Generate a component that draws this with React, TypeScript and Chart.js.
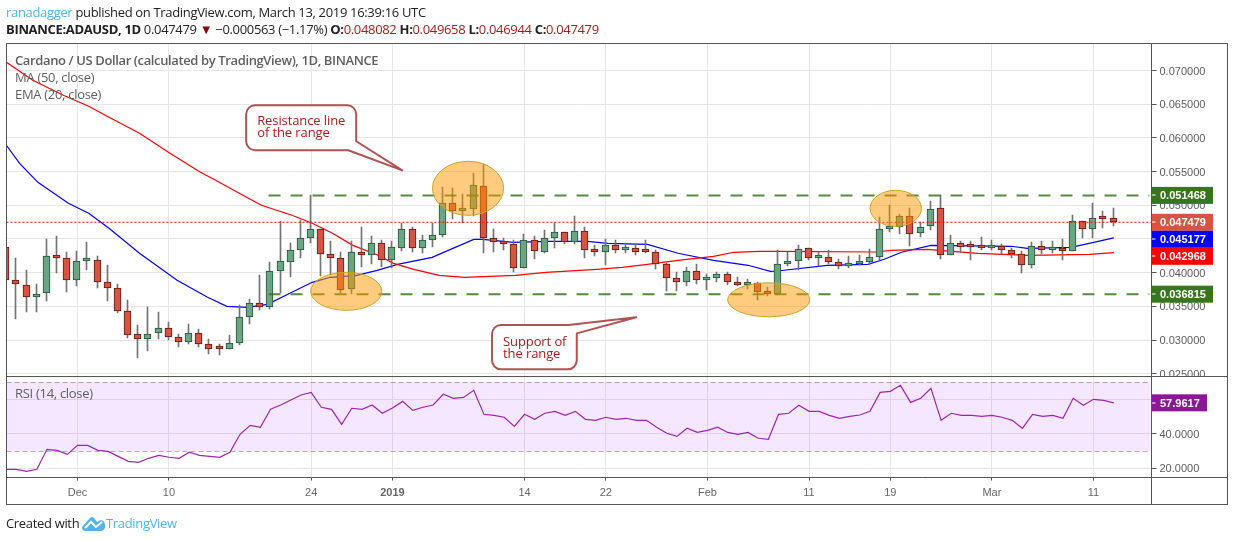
import { useEffect, useRef } from "react";
import Chart from "chart.js/auto";

// day index 0 = 24 Nov 2018
const opens = [
	0.04382, 0.03897, 0.03818, 0.03644, 0.03704, 0.04248, 0.04218, 0.03897, 0.04179, 0.04189,
	0.03862, 0.03778, 0.03437, 0.03095, 0.03021, 0.0311, 0.03184, 0.03051, 0.02977, 0.0311,
	0.02947, 0.02878, 0.02873, 0.02962, 0.03348, 0.03555, 0.03496, 0.0403, 0.04164, 0.04342,
	0.0452, 0.04654, 0.04278, 0.04223, 0.03763, 0.04312, 0.04268, 0.04446, 0.04194, 0.04366,
	0.04653, 0.04366, 0.0449, 0.04564, 0.05039, 0.04916, 0.04945, 0.05292, 0.0452, 0.04461,
	0.04431, 0.04075, 0.0449, 0.04312, 0.04515, 0.04609, 0.04461, 0.04624, 0.04342, 0.04312,
	0.04416, 0.04342, 0.04371, 0.04312, 0.04312, 0.04134, 0.03926, 0.03867, 0.0403, 0.03897,
	0.03926, 0.03986, 0.03867, 0.03822, 0.03847, 0.03718, 0.03689, 0.04129, 0.04178, 0.04371,
	0.04223, 0.04238, 0.04163, 0.04099, 0.04129, 0.04159, 0.04238, 0.04648, 0.04683, 0.04846,
	0.04594, 0.04698, 0.04965, 0.04267, 0.04446, 0.04391, 0.04386, 0.04366, 0.04401, 0.04342,
	0.04282, 0.04114, 0.04401, 0.04342, 0.04371, 0.04327, 0.04772, 0.04653, 0.04817, 0.048082
];
const closes = [
	0.03887, 0.03837, 0.03644, 0.03689, 0.04248, 0.04223, 0.03897, 0.04179, 0.04194, 0.03867,
	0.03778, 0.03437, 0.0308, 0.03021, 0.03095, 0.03184, 0.03051, 0.02977, 0.0311, 0.02947,
	0.02873, 0.02868, 0.02962, 0.03348, 0.03555, 0.03496, 0.0403, 0.04179, 0.04342, 0.0452,
	0.04654, 0.04283, 0.04223, 0.03748, 0.04312, 0.04263, 0.04446, 0.04194, 0.04387, 0.04653,
	0.04366, 0.0449, 0.04564, 0.05039, 0.04921, 0.0495, 0.05306, 0.04515, 0.04456, 0.04426,
	0.04075, 0.0449, 0.04327, 0.0452, 0.04609, 0.04461, 0.04624, 0.04342, 0.04312, 0.04416,
	0.04342, 0.04386, 0.04312, 0.04307, 0.04134, 0.03926, 0.03867, 0.0403, 0.03897, 0.03941,
	0.03986, 0.03867, 0.03822, 0.03852, 0.03718, 0.03689, 0.04134, 0.04178, 0.04356, 0.04223,
	0.04243, 0.04163, 0.04104, 0.04134, 0.04163, 0.04238, 0.04653, 0.04683, 0.04846, 0.04579,
	0.04683, 0.0495, 0.04267, 0.04446, 0.04386, 0.04381, 0.04366, 0.04401, 0.04342, 0.04282,
	0.04114, 0.04401, 0.04342, 0.04371, 0.04327, 0.04772, 0.04653, 0.04817, 0.04802, 0.047479
];
const highs = [
	0.04382, 0.04223, 0.04045, 0.03828, 0.04505, 0.0454, 0.04302, 0.04317, 0.04451, 0.04253,
	0.04119, 0.03837, 0.036, 0.03219, 0.03486, 0.03412, 0.03273, 0.03095, 0.03234, 0.0317,
	0.03021, 0.02937, 0.03071, 0.03526, 0.03605, 0.03961, 0.04154, 0.04762, 0.04436, 0.04787,
	0.05148, 0.04654, 0.04466, 0.04302, 0.04466, 0.04673, 0.0454, 0.0449, 0.04466, 0.04738,
	0.04683, 0.04564, 0.04743, 0.05267, 0.05252, 0.05163, 0.05475, 0.05608, 0.04644, 0.0452,
	0.0449, 0.04579, 0.0455, 0.04639, 0.04743, 0.04609, 0.04836, 0.04683, 0.04416, 0.04505,
	0.0449, 0.04446, 0.04431, 0.0449, 0.04342, 0.04144, 0.04015, 0.04085, 0.04134, 0.03986,
	0.04015, 0.04015, 0.03931, 0.03911, 0.03867, 0.03783, 0.04342, 0.04307, 0.04406, 0.04371,
	0.04307, 0.04342, 0.04208, 0.04243, 0.04257, 0.04356, 0.04821, 0.04999, 0.04876, 0.04965,
	0.04757, 0.05059, 0.05158, 0.04554, 0.04475, 0.04465, 0.04525, 0.0449, 0.04431, 0.04371,
	0.04327, 0.0445, 0.0447, 0.04465, 0.04495, 0.04851, 0.04772, 0.05029, 0.0492, 0.049658
];
const lows = [
	0.03887, 0.03318, 0.03417, 0.03417, 0.0358, 0.03996, 0.03714, 0.03798, 0.04035, 0.03773,
	0.0358, 0.03402, 0.03031, 0.02734, 0.02838, 0.03016, 0.02996, 0.02898, 0.02942, 0.02898,
	0.02794, 0.02779, 0.02873, 0.02927, 0.03239, 0.03447, 0.03461, 0.03699, 0.03936, 0.04213,
	0.04441, 0.03951, 0.03971, 0.03699, 0.03679, 0.04085, 0.04129, 0.04085, 0.04075, 0.04322,
	0.04307, 0.04292, 0.04376, 0.0453, 0.04792, 0.04743, 0.04846, 0.04292, 0.04307, 0.04337,
	0.0401, 0.04075, 0.04203, 0.04292, 0.04366, 0.04426, 0.04426, 0.04218, 0.04248, 0.04114,
	0.04292, 0.04292, 0.04263, 0.04292, 0.04055, 0.03728, 0.03723, 0.03803, 0.03832, 0.03743,
	0.03862, 0.03817, 0.03803, 0.03763, 0.03595, 0.03654, 0.03664, 0.04094, 0.0404, 0.04193,
	0.04099, 0.04124, 0.04055, 0.04069, 0.04109, 0.04119, 0.04183, 0.04604, 0.04574, 0.04396,
	0.0453, 0.04629, 0.04203, 0.04267, 0.04297, 0.04188, 0.04342, 0.04342, 0.04282, 0.04218,
	0.03995, 0.04069, 0.04282, 0.04297, 0.04188, 0.04327, 0.0451, 0.0451, 0.04663, 0.046944
];

const ma50Days = [0, 2.6, 5.6, 8.1, 10.1, 13.1, 16.1, 19.1, 20.6, 23.1, 25.1, 28.1, 30.1, 32.1, 34.1, 36.6, 38.1, 40.1, 42.6, 45.1, 50.1, 53.1, 58.1, 60.6, 63.1, 66.1, 69.6, 71.6, 74.1, 76.1, 85.6, 87.1, 90.6, 95.6, 100.6, 106.6, 109];
const ma50Values = [
	0.07122, 0.06855, 0.06632, 0.06469, 0.06306, 0.06068, 0.05772, 0.0549, 0.05371, 0.05163,
	0.05, 0.04852, 0.04733, 0.04584, 0.04406, 0.04258, 0.04139, 0.0405, 0.03961, 0.03932,
	0.03961, 0.04006, 0.0405, 0.0408, 0.04124, 0.04184, 0.04243, 0.04303, 0.04317, 0.04317,
	0.04307, 0.04332, 0.04347, 0.04288, 0.04258, 0.04273, 0.042968
];
const ema20Days = [0, 1.3, 3.1, 6.1, 8.1, 10.1, 13.1, 16.8, 19.8, 21.7, 23.7, 25.7, 27.9, 30.1, 31.9, 34.5, 36.5, 38.5, 41.9, 46, 46.9, 49.9, 53.3, 57.2, 59.2, 63.1, 66.1, 69.6, 73, 75.2, 75.9, 80.8, 84.8, 86.4, 88.1, 91, 98.9, 100.5, 104.8, 109];
const ema20Values = [
	0.0589, 0.05623, 0.05341, 0.0503, 0.04881, 0.04659, 0.04288, 0.03887, 0.03635, 0.03501,
	0.03486, 0.03531, 0.03694, 0.03857, 0.03932, 0.03961, 0.04035, 0.04124, 0.04228, 0.04495,
	0.04495, 0.04451, 0.04466, 0.04466, 0.04436, 0.04421, 0.04288, 0.04184, 0.0411, 0.04021,
	0.04025, 0.0411, 0.04124, 0.04199, 0.04303, 0.04406, 0.04392, 0.04362, 0.04377, 0.045177
];
const rsiValues = [
	19.4, 19.4, 18.2, 19.4, 31.0, 30.4, 28.1, 33.3, 33.3, 30.4,
	29.8, 26.9, 24.0, 23.5, 25.8, 27.5, 26.4, 25.8, 29.3, 27.5,
	26.9, 26.4, 29.3, 39.7, 44.9, 43.8, 54.2, 56.7, 59.6, 62.5,
	64.0, 55.4, 54.2, 45.5, 54.8, 54.2, 56.7, 51.9, 55.0, 58.8,
	53.6, 55.4, 56.7, 62.9, 60.6, 61.1, 65.2, 51.3, 50.7, 49.6,
	44.3, 51.3, 48.4, 51.9, 53.0, 50.7, 53.0, 48.4, 47.8, 49.6,
	48.4, 49.0, 47.8, 47.8, 43.8, 40.3, 38.5, 43.2, 40.8, 42.0,
	43.8, 40.8, 39.7, 40.8, 37.4, 36.8, 51.3, 51.9, 56.5, 53.0,
	53.0, 50.7, 49.0, 50.1, 50.9, 53.0, 64.0, 64.6, 68.1, 58.2,
	60.6, 66.4, 47.8, 51.9, 50.7, 50.7, 50.1, 50.7, 49.6, 47.8,
	43.2, 51.3, 50.1, 50.7, 49.0, 60.6, 56.5, 60.0, 59.4, 57.96
];

const tickDays = [7, 16, 30, 38, 51, 59, 69, 79, 87, 97, 107];
const tickLabels = ["Dec", "10", "24", "2019", "14", "22", "Feb", "11", "19", "Mar", "11"];

const resistance = 0.051468;
const support = 0.036815;
const lastClose = 0.047479;
const lastRsi = 57.9617;

const rangeStartDay = 25.8;
const rangeEndDay = 112.5;

// [centre day, centre price, day radius, price radius]
const ellipses = [
	[45.44, 0.05252, 3.5, 0.00401],
	[33.45, 0.03724, 3.5, 0.00282],
	[75.03, 0.03598, 4.04, 0.00252],
	[87.54, 0.04955, 2.53, 0.00267]
];

const callouts = [
	{
		left: 23.6, right: 34.43, top: 0.06484, bottom: 0.05816,
		tipDay: 38.97, tipPrice: 0.05519, baseDay: 33.65, basePrice: 0.0595, side: "bottom",
		lines: ["Resistance line", "of the range"], textTop: 16
	},
	{
		left: 47.8, right: 56.14, top: 0.03224, bottom: 0.02566,
		tipDay: 62, tipPrice: 0.03338, baseDay: 55.32, basePrice: 0.031, side: "top",
		lines: ["Support of", "the range"], textTop: 17
	}
];

const priceLabels = [
	{ value: resistance, color: "#38761d" },
	{ value: lastClose, color: "#d75442" },
	{ value: 0.045177, color: "#0000ff" },
	{ value: 0.042968, color: "#ff0000" },
	{ value: support, color: "#38761d" }
];

const axisFont = "'Liberation Sans', Arial, sans-serif";
const uiFont = "'Open Sans', sans-serif";

const days = opens.map((_, i) => i);

function roundedBox(ctx: any, c: any, x: any, y: any) {
	const l = x.getPixelForValue(c.left);
	const r = x.getPixelForValue(c.right);
	const t = y.getPixelForValue(c.top);
	const b = y.getPixelForValue(c.bottom);
	const tx = x.getPixelForValue(c.tipDay);
	const ty = y.getPixelForValue(c.tipPrice);
	const bx = x.getPixelForValue(c.baseDay);
	const by = y.getPixelForValue(c.basePrice);
	const rad = 9;
	ctx.beginPath();
	ctx.moveTo(l + rad, t);
	if (c.side === "top") {
		ctx.lineTo(bx, t);
		ctx.lineTo(tx, ty);
		ctx.lineTo(r, by);
		ctx.arcTo(r, b, r - rad, b, rad);
	} else {
		ctx.arcTo(r, t, r, t + rad, rad);
		ctx.lineTo(r, by);
		ctx.lineTo(tx, ty);
		ctx.lineTo(bx, b);
	}
	ctx.arcTo(l, b, l, b - rad, rad);
	ctx.arcTo(l, t, l + rad, t, rad);
	ctx.closePath();
	ctx.fillStyle = "rgba(255,255,255,0.92)";
	ctx.fill();
	ctx.lineWidth = 2;
	ctx.lineJoin = "round";
	ctx.strokeStyle = "rgba(155,40,40,0.8)";
	ctx.stroke();
	ctx.fillStyle = "#a61c1c";
	ctx.font = `13px ${uiFont}`;
	ctx.letterSpacing = "-0.1px";
	ctx.textAlign = "left";
	ctx.textBaseline = "middle";
	c.lines.forEach((line: string, i: number) => {
		ctx.fillText(line, l + 11, t + c.textTop + i * 12);
	});
	ctx.letterSpacing = "0px";
}

function pill(ctx: any, left: number, right: number, mid: number, color: string, text: string) {
	ctx.fillStyle = color;
	ctx.fillRect(left, mid - 8.5, right - left, 17);
	ctx.fillStyle = "#ffffff";
	ctx.fillRect(left, Math.round(mid) - 0.5, 4, 1);
	ctx.font = `bold 11px ${axisFont}`;
	ctx.textAlign = "left";
	ctx.textBaseline = "middle";
	ctx.fillText(text, left + 8.5, mid + 1);
}

const panePlugin = {
	id: "panes",
	beforeDraw(chart: any) {
		// tick labels sit a pixel lower than canvas "middle" gives
		[chart.scales.y, chart.scales.rsi].forEach((scale: any) => {
			scale.getLabelItems(chart.chartArea).forEach((item: any) => {
				if (item.shifted) return;
				item.options.translation[1] += 1;
				item.shifted = true;
			});
		});
	},
	beforeDatasetsDraw(chart: any) {
		const { ctx, chartArea, scales } = chart;
		const top = scales.rsi.getPixelForValue(70);
		const bottom = scales.rsi.getPixelForValue(30);
		ctx.save();
		ctx.fillStyle = "rgba(153,21,255,0.1)";
		ctx.fillRect(chartArea.left, top, chartArea.width - 1, bottom - top);
		ctx.strokeStyle = "rgba(120,85,130,0.5)";
		ctx.setLineDash([5, 3]);
		ctx.lineWidth = 1;
		[top, bottom].forEach((y: number) => {
			ctx.beginPath();
			ctx.moveTo(chartArea.left, Math.round(y) + 0.5);
			ctx.lineTo(chartArea.right - 1, Math.round(y) + 0.5);
			ctx.stroke();
		});
		ctx.restore();

		// snap candles to whole pixels so wicks stay crisp
		chart.data.datasets.forEach((ds: any, i: number) => {
			if (ds.type !== "bar") return;
			chart.getDatasetMeta(i).data.forEach((el: any) => {
				el.x = Math.floor(el.x - 0.7) + 0.5;
				el.y = Math.round(el.y);
				el.base = Math.round(el.base);
			});
		});
	},
	afterDatasetsDraw(chart: any) {
		const { ctx, scales } = chart;
		const x = scales.x;
		const y = scales.y;
		ctx.save();
		ctx.beginPath();
		ctx.rect(chart.chartArea.left, y.top, chart.chartArea.width, y.height);
		ctx.clip();
		ellipses.forEach(([d, p, rd, rp]) => {
			const cx = x.getPixelForValue(d);
			const cy = y.getPixelForValue(p);
			ctx.beginPath();
			ctx.ellipse(cx, cy, x.getPixelForValue(d + rd) - cx, cy - y.getPixelForValue(p + rp), 0, 0, Math.PI * 2);
			ctx.fillStyle = "rgba(255,152,0,0.5)";
			ctx.fill();
			ctx.lineWidth = 1;
			ctx.strokeStyle = "#c9a227";
			ctx.stroke();
		});
		callouts.forEach((c) => roundedBox(ctx, c, x, y));

		ctx.fillStyle = "#5f5f5f";
		ctx.textAlign = "left";
		ctx.textBaseline = "middle";
		ctx.letterSpacing = "-0.38px";
		ctx.font = `600 13px ${uiFont}`;
		ctx.fillText("Cardano / US Dollar (calculated by TradingView), 1D, BINANCE", 15, 61);
		ctx.letterSpacing = "-0.3px";
		ctx.font = `13px ${uiFont}`;
		ctx.fillText("MA (50, close)", 15, 78);
		ctx.fillText("EMA (20, close)", 15, 95);
		ctx.restore();

		ctx.save();
		ctx.fillStyle = "#5f5f5f";
		ctx.textAlign = "left";
		ctx.textBaseline = "middle";
		ctx.letterSpacing = "-0.3px";
		ctx.font = `13px ${uiFont}`;
		ctx.fillText("RSI (14, close)", 15, 394);
		ctx.restore();
	},
	afterDraw(chart: any) {
		const { ctx, chartArea, scales } = chart;
		const frameRight = chart.width - 6.5;
		const frameBottom = chartArea.bottom + 27;
		ctx.save();
		// the lowest price label is cut by the RSI pane
		ctx.fillStyle = "#ffffff";
		ctx.fillRect(chartArea.right + 1, scales.y.bottom, frameRight - chartArea.right - 2, 6);

		let floor = -Infinity;
		priceLabels.forEach((l) => {
			const mid = Math.max(scales.y.getPixelForValue(l.value), floor + 8.5);
			pill(ctx, chartArea.right, chartArea.right + 61.5, mid, l.color, l.value.toFixed(6));
			floor = mid + 8.5;
		});
		pill(ctx, chartArea.right, chartArea.right + 55.5, scales.rsi.getPixelForValue(lastRsi), "#8e1599", lastRsi.toFixed(4));

		ctx.strokeStyle = "#555555";
		ctx.lineWidth = 1;
		ctx.strokeRect(chartArea.left, chartArea.top, frameRight - chartArea.left, frameBottom - chartArea.top);
		ctx.beginPath();
		ctx.moveTo(chartArea.left, scales.y.bottom);
		ctx.lineTo(frameRight, scales.y.bottom);
		ctx.moveTo(chartArea.left, chartArea.bottom);
		ctx.lineTo(frameRight, chartArea.bottom);
		ctx.moveTo(chartArea.right, chartArea.top);
		ctx.lineTo(chartArea.right, frameBottom);
		ctx.stroke();
		ctx.restore();
	}
};

function toLine(xs: number[], ys: number[]) {
	return xs.map((x, i) => ({ x, y: ys[i] }));
}

function CandleChart() {
	const canvasRef = useRef<HTMLCanvasElement>(null);

	useEffect(() => {
		if (!canvasRef.current) return;

		const up = days.map((i) => closes[i] >= opens[i]);

		const chart = new Chart(canvasRef.current, {
			data: {
				datasets: [
					{
						type: "line",
						label: "EMA (20, close)",
						data: toLine(ema20Days, ema20Values),
						yAxisID: "y",
						borderColor: "#0000ff",
						borderWidth: 1.2,
						pointRadius: 0,
						order: 6
					},
					{
						type: "line",
						label: "MA (50, close)",
						data: toLine(ma50Days, ma50Values),
						yAxisID: "y",
						borderColor: "#ff0000",
						borderWidth: 1.2,
						pointRadius: 0,
						order: 5
					},
					{
						type: "bar",
						label: "wick",
						data: days.map((i) => ({ x: i, y: [lows[i], highs[i]] })),
						yAxisID: "y",
						backgroundColor: "#737375",
						barThickness: 1,
						grouped: false,
						order: 4
					},
					{
						type: "bar",
						label: "ADAUSD",
						data: days.map((i) => ({ x: i, y: [opens[i], closes[i]] })),
						yAxisID: "y",
						backgroundColor: days.map((i) => (up[i] ? "#6ba583" : "#d75442")),
						borderColor: days.map((i) => (up[i] ? "#225437" : "#5b1a13")),
						borderWidth: 1,
						borderSkipped: false,
						barThickness: 7,
						minBarLength: 3,
						grouped: false,
						order: 3
					},
					{
						type: "line",
						label: "close",
						data: toLine([0, 112.8], [lastClose, lastClose]),
						yAxisID: "y",
						borderColor: "#ff0000",
						borderWidth: 1,
						borderDash: [2, 2],
						pointRadius: 0,
						order: 2
					},
					{
						type: "line",
						label: "resistance",
						data: toLine([rangeStartDay, rangeEndDay], [resistance, resistance]),
						yAxisID: "y",
						borderColor: "rgba(56,118,29,0.85)",
						borderWidth: 2,
						borderDash: [12, 10],
						pointRadius: 0,
						order: 1
					},
					{
						type: "line",
						label: "support",
						data: toLine([rangeStartDay, rangeEndDay], [support, support]),
						yAxisID: "y",
						borderColor: "rgba(56,118,29,0.85)",
						borderWidth: 2,
						borderDash: [12, 10],
						pointRadius: 0,
						order: 1
					},
					{
						type: "line",
						label: "RSI (14, close)",
						data: toLine(days, rsiValues),
						yAxisID: "rsi",
						borderColor: "#9a27ab",
						borderWidth: 1.2,
						pointRadius: 0,
						order: 0
					}
				]
			} as any,
			options: {
				responsive: false,
				devicePixelRatio: 1,
				animation: false,
				layout: { padding: { left: 6.5, top: 43.5, right: 6.5, bottom: 36.5 } },
				plugins: { legend: { display: false }, tooltip: { enabled: false } },
				scales: {
					x: {
						type: "linear",
						position: "bottom",
						offset: false,
						min: 0.01,
						max: 112.71,
						afterBuildTicks: (scale: any) => {
							scale.ticks = tickDays.map((value) => ({ value }));
						},
						afterFit: (scale: any) => {
							scale.height = 27;
						},
						grid: { color: "#e6e6e6", tickColor: "#555555", tickLength: 3, offset: false },
						border: { display: false },
						ticks: {
							autoSkip: false,
							maxRotation: 0,
							padding: 6,
							color: "#666666",
							font: (ctx: any) => ({
								family: axisFont,
								size: 11,
								weight: ctx.tick && ctx.tick.value === 38 ? "bold" : "normal"
							}),
							callback: (value: any) => tickLabels[tickDays.indexOf(Number(value))] ?? ""
						}
					},
					y: {
						type: "linear",
						position: "right",
						stack: "panes",
						stackWeight: 333,
						min: 0.024599,
						max: 0.074006,
						afterFit: (scale: any) => {
							scale.width = 76;
						},
						grid: { color: "#e6e6e6", tickColor: "#555555", tickLength: 5 },
						border: { display: false },
						ticks: {
							stepSize: 0.005,
							includeBounds: false,
							autoSkip: false,
							padding: 3,
							color: "#5c5c5c",
							font: { family: axisFont, size: 11 },
							callback: (value: any) => Number(value).toFixed(6)
						}
					},
					rsi: {
						type: "linear",
						position: "right",
						stack: "panes",
						stackWeight: 101,
						min: 14.67,
						max: 73.22,
						afterFit: (scale: any) => {
							scale.width = 76;
						},
						grid: { color: "#e6e6e6", tickColor: "#555555", tickLength: 5 },
						border: { display: false },
						ticks: {
							stepSize: 20,
							includeBounds: false,
							autoSkip: false,
							padding: 3,
							color: "#5c5c5c",
							font: { family: axisFont, size: 11 },
							callback: (value: any) => Number(value).toFixed(4)
						}
					}
				}
			} as any,
			plugins: [panePlugin]
		} as any);

		return () => {
			chart.destroy();
		};
	}, []);

	return <canvas ref={canvasRef} width={1234} height={541} style={{ position: "absolute", left: 0, top: 0 }} />;
}

const textLine = {
	position: "absolute",
	left: 6,
	fontFamily: uiFont,
	fontSize: 13,
	lineHeight: "17px",
	letterSpacing: "-0.33px",
	whiteSpace: "nowrap",
	color: "#222222"
} as const;

const quote = { color: "#a61c1c" };

export default function App() {
	return (
		<div style={{ position: "absolute", left: 0, top: 0, width: 1234, height: 541, background: "#ffffff", overflow: "hidden" }}>
			<CandleChart />
			<div style={{ ...textLine, top: 4 }}>
				<span style={{ color: "#4db6e8" }}>ranadagger</span> published on TradingView.com, March 13, 2019 16:39:16 UTC
			</div>
			<div style={{ ...textLine, top: 21 }}>
				<b>BINANCE:ADAUSD, 1D</b> 0.047479 <span style={{ color: "#8b0000" }}>▼</span> −0.000563 (−1.17%) <b>O:</b>
				<span style={quote}>0.048082</span> <b>H:</b>
				<span style={quote}>0.049658</span> <b>L:</b>
				<span style={quote}>0.046944</span> <b>C:</b>
				<span style={quote}>0.047479</span>
			</div>
			<div style={{ ...textLine, top: 515 }}>Created with</div>
			<svg width={24} height={15} viewBox="0 0 24 15" style={{ position: "absolute", left: 82, top: 516 }}>
				<path d="M0 11 L8 2 Q10 0 12 2 L15 6 L19 4 Q23 5 23 9 Q24 14 19 15 L4 15 Q0 15 0 11 Z" fill="#4db6e8" />
				<path d="M3 12 L9 6 L14 11 L20 6" fill="none" stroke="#ffffff" strokeWidth={2} />
			</svg>
			<div style={{ ...textLine, left: 106, top: 515, color: "#4db6e8" }}>TradingView</div>
		</div>
	);
}
